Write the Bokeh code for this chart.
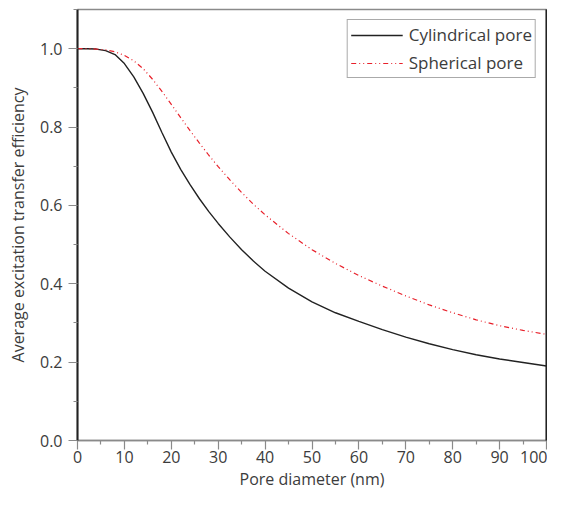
from bokeh.plotting import figure
from bokeh.models import Range1d, LinearAxis, FixedTicker, Legend, LegendItem, ColumnDataSource, CustomJSTickFormatter
from bokeh.embed import file_html
from bokeh.resources import INLINE

# Pore diameter (nm)
pore_diameter = [0, 2, 4, 6, 8, 10, 12, 14, 16, 18, 20, 22, 24, 26, 28, 30, 32.5, 35, 37.5,
                 40, 45, 50, 55, 60, 65, 70, 75, 80, 85, 90, 95, 100]
# Average excitation transfer efficiency
cylindrical = [1.0, 1.0, 0.999, 0.995, 0.985, 0.962, 0.928, 0.886, 0.838, 0.786, 0.736, 0.692,
               0.653, 0.617, 0.584, 0.554, 0.519, 0.487, 0.458, 0.432, 0.389, 0.354, 0.326,
               0.304, 0.283, 0.264, 0.247, 0.232, 0.219, 0.208, 0.199, 0.190]
spherical = [1.0, 1.0, 0.999, 0.997, 0.992, 0.983, 0.969, 0.949, 0.922, 0.891, 0.858, 0.824,
             0.791, 0.759, 0.728, 0.699, 0.665, 0.633, 0.603, 0.576, 0.528, 0.487, 0.452,
             0.421, 0.394, 0.369, 0.346, 0.326, 0.308, 0.293, 0.281, 0.271]
x_ticks = [0, 10, 20, 30, 40, 50, 60, 70, 80, 90, 100]
y_ticks = [0.0, 0.2, 0.4, 0.6, 0.8, 1.0]

FONT = "Open Sans"
TXT = "#3c3c3c"
GRAY = "#8a8a8a"

src = ColumnDataSource(dict(x=pore_diameter, cyl=cylindrical, sph=spherical))

p = figure(width=547, height=492, output_backend="svg", toolbar_location=None,
           x_range=Range1d(0, 100), y_range=Range1d(0, 1.1),
           min_border_left=77, min_border_right=1, min_border_top=9, min_border_bottom=40)
p.background_fill_color = "white"
p.border_fill_color = "white"
p.xgrid.visible = False
p.ygrid.visible = False
p.outline_line_color = GRAY
p.outline_line_width = 1.5

r1 = p.line("x", "cyl", source=src, line_color="#222222", line_width=1.4)
r2 = p.line("x", "sph", source=src, line_color="#e8202a", line_width=1.2, line_dash="5 3 1 3 1 3")

xa = p.xaxis[0]
xa.ticker = FixedTicker(ticks=x_ticks, minor_ticks=[v + 5 for v in x_ticks[:-1]])
xa.axis_label = "Pore diameter (nm)"
xa.axis_line_color = GRAY
xa.axis_line_width = 1.5
xa.major_tick_line_color = GRAY
xa.minor_tick_line_color = GRAY
xa.major_tick_line_width = 1.2
xa.minor_tick_line_width = 1.2
xa.major_tick_out = 9
xa.major_tick_in = 0
xa.minor_tick_out = 4
xa.minor_tick_in = 0
xa.major_label_standoff = 1
xa.axis_label_standoff = 2

ya = p.yaxis[0]
ya.ticker = FixedTicker(ticks=y_ticks, minor_ticks=[v + 0.1 for v in y_ticks])
ya.axis_label = "Average excitation transfer efficiency"
ya.axis_line_color = "#222222"
ya.axis_line_width = 2
ya.major_tick_line_color = GRAY
ya.minor_tick_line_color = GRAY
ya.major_tick_line_width = 1.2
ya.minor_tick_line_width = 1.2
ya.major_tick_out = 9
ya.major_tick_in = 0
ya.minor_tick_out = 4
ya.minor_tick_in = 0
ya.major_label_standoff = 6
ya.axis_label_standoff = 8
ya.formatter = CustomJSTickFormatter(code="return tick.toFixed(1);")

for ax in (xa, ya):
    ax.major_label_text_font = FONT
    ax.major_label_text_font_size = "16px"
    ax.major_label_text_color = TXT
    ax.axis_label_text_font = FONT
    ax.axis_label_text_font_size = "16px"
    ax.axis_label_text_font_style = "normal"
    ax.axis_label_text_color = TXT

ra = LinearAxis(ticker=FixedTicker(ticks=[]), axis_line_color="#222222", axis_line_width=2,
                major_label_text_font_size="0px", major_tick_line_color=None,
                minor_tick_line_color=None, major_tick_out=0, major_tick_in=0,
                minor_tick_out=0, minor_tick_in=0, major_label_standoff=0)
p.add_layout(ra, "right")

legend = Legend(items=[LegendItem(label="Cylindrical pore", renderers=[r1]),
                       LegendItem(label="Spherical pore", renderers=[r2])],
                location="top_right")
legend.label_text_font = FONT
legend.label_text_font_size = "17px"
legend.label_text_color = TXT
legend.border_line_color = "#555555"
legend.border_line_width = 1
legend.glyph_width = 52
legend.glyph_height = 18
legend.label_height = 18
legend.label_standoff = 6
legend.spacing = 5
legend.padding = 3
legend.margin = 10
legend.background_fill_alpha = 1.0
p.add_layout(legend)

open("out.html", "w").write(file_html(p, INLINE))
